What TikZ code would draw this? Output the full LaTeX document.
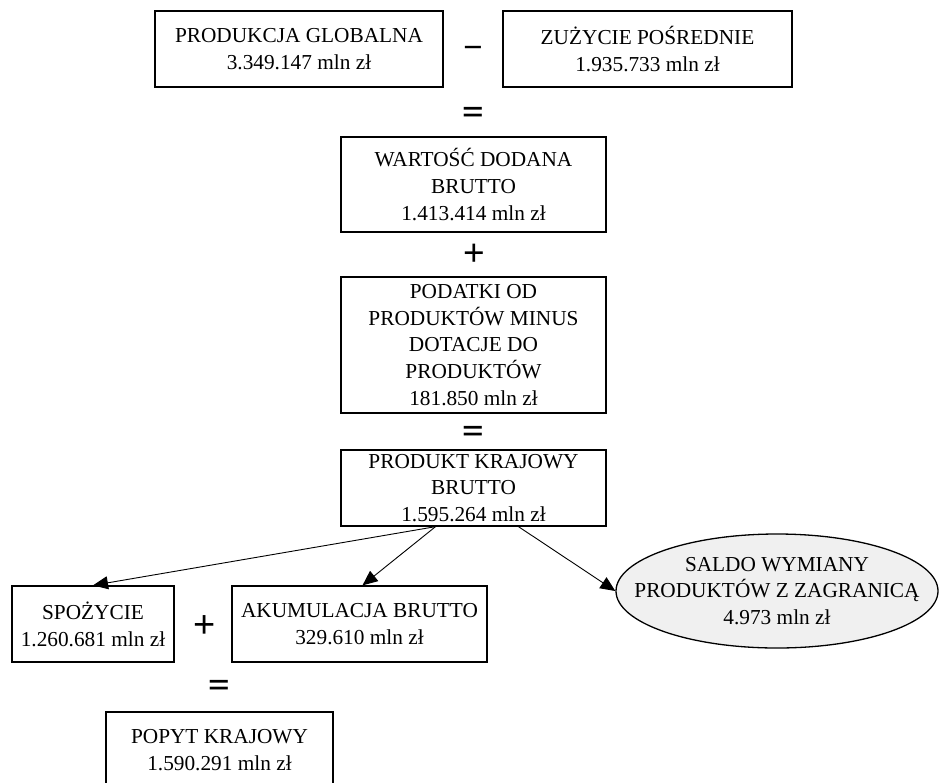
\documentclass[tikz,border=0pt]{standalone}
\usepackage{fontspec}
\setmainfont{Liberation Serif}
\newfontfamily\signfont{Liberation Sans}
\usetikzlibrary{arrows.meta,shapes.geometric}

\begin{document}
\begin{tikzpicture}[x=1pt,y=-1pt,
  txt/.style={font=\fontsize{21.3}{26.8}\selectfont, align=center, inner sep=0pt},
  box/.style={txt, draw, line width=1.3pt, minimum height=76pt},
  oval/.style={ellipse, draw, line width=1.3pt, fill=black!6, inner sep=0pt},
  sign/.style={font=\signfont\fontsize{#1}{#1}\selectfont, inner sep=0pt},
  eqsign/.style={font=\signfont\bfseries\fontsize{36}{36}\selectfont, inner sep=0pt},
  conn/.style={line width=0.9pt, -{Triangle[length=15pt,width=13pt]}}]

\useasboundingbox (0,0) rectangle (939,782);
\clip (0,0) rectangle (939,782);

% first row: gross output minus intermediate consumption
\node[box, minimum width=288pt] (pg) at (299,49)
  {PRODUKCJA GLOBALNA\\3.349.147 mln zł};
\node[sign=33] (minus) at (473,52) {−};
\node[box, minimum width=289pt] (zp) at (647.5,49)
  {ZUŻYCIE POŚREDNIE\\1.935.733 mln zł};

\node[eqsign] (eq1) at (473,114) {\scalebox{1}[0.7]{=}};

% gross value added plus net product taxes
\node[box, minimum width=265pt, minimum height=95pt] (wdb) at (473.5,184.5)
  {WARTOŚĆ DODANA\\BRUTTO\\1.413.414 mln zł};
\node[sign=37] (plus1) at (474,255) {+};
\node[box, minimum width=265pt, minimum height=136pt] (pod) at (473.5,345)
  {PODATKI OD\\PRODUKTÓW MINUS\\DOTACJE DO\\PRODUKTÓW\\181.850 mln zł};

\node[eqsign] (eq2) at (473,433) {\scalebox{1}[0.7]{=}};

% gross domestic product and its uses
\node[box, minimum width=265pt] (pkb) at (473.5,488)
  {PRODUKT KRAJOWY\\BRUTTO\\1.595.264 mln zł};

\node[box, minimum width=162pt] (spoz) at (93,624)
  {SPOŻYCIE\\1.260.681 mln zł};
\node[sign=38] (plus2) at (205,627) {+};
\node[box, minimum width=255pt] (akum) at (359.5,624)
  {AKUMULACJA BRUTTO\\329.610 mln zł};

\node[oval, minimum width=322pt, minimum height=114pt] (ell) at (777,591) {};
\node[txt] (elltxt) at (ell.center)
  {SALDO WYMIANY\\PRODUKTÓW Z ZAGRANICĄ\\4.973 mln zł};

\node[eqsign] (eq3) at (219,687) {\scalebox{1}[0.7]{=}};
\node[box, minimum width=227pt] (popyt) at (219.5,750)
  {POPYT KRAJOWY\\1.590.291 mln zł};

% connectors from GDP
\draw[conn] ([xshift=-38pt]pkb.south) -- (spoz.north);
\draw[conn] ([xshift=-38pt]pkb.south) -- ([xshift=3pt]akum.north);
\draw[conn] ([xshift=45pt]pkb.south) -- (ell.west);
\end{tikzpicture}
\end{document}
